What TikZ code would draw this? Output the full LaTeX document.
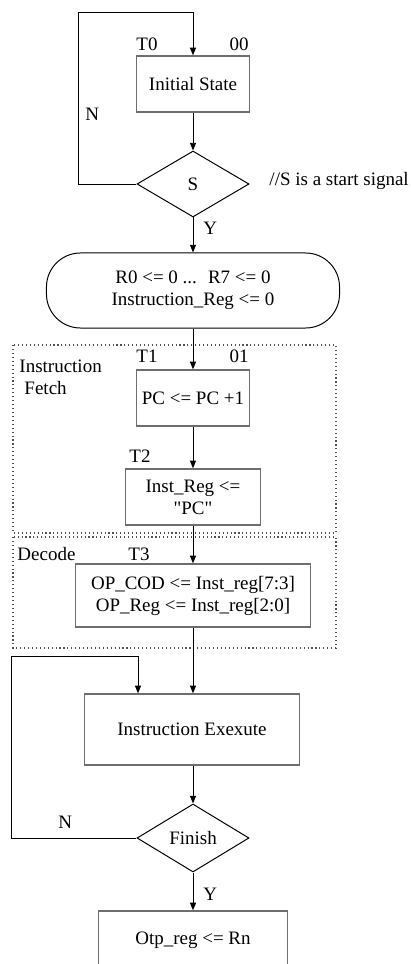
\documentclass[tikz,border=0pt]{standalone}
\usepackage{fontspec}
\setmainfont{Liberation Serif}
\newfontfamily\straightfont{Liberation Serif}[Ligatures=TeXOff]
\usetikzlibrary{shapes.geometric,arrows.meta}
\definecolor{boxgray}{HTML}{6E6E6E}
\definecolor{framegray}{HTML}{505050}
\tikzset{
  state/.style={draw=boxgray, line width=0.9pt, rectangle, inner sep=0pt, align=center,
    minimum width=2.825cm, minimum height=1.4cm},
  test/.style={draw, diamond, inner sep=0pt, minimum width=2.8cm, minimum height=1.65cm},
  lbl/.style={inner sep=0pt, anchor=base west},
  frame/.style={draw=framegray, dotted, line width=0.8pt}
}
\begin{document}
\begin{tikzpicture}[x=0.025cm, y=-0.025cm, line width=0.7pt,
    >={Triangle[length=5.5pt,width=4.3pt]},
    font=\fontsize{13.5pt}{15.6pt}\selectfont]
    \useasboundingbox (0,0) rectangle (411,964);
    \clip (0,0) rectangle (411,964);
    % Estado inicial
    \node[state] (init) at (193,84) {Initial State};
    \node[lbl] (t0) at (136,51) {T0};
    \node[lbl, anchor=base east] (c00) at (249,51) {00};
    \node[test] (s) at (193,184) {S};
    \node[lbl] (note) at (269,186) {//S is a start signal};
    \node[lbl] (n1) at (85,121) {N};
    \node[lbl] (y1) at (203,235) {Y};
    \coordinate (top) at (193,12);
    \draw[->] (s.west) -- ++(-58,0) |- (top) -- (init.north);
    \draw[->] (init.south) -- (s.north);
    % Reset
    \node[draw, rounded corners=0.85cm, inner sep=0pt, align=center,
      minimum width=7.325cm, minimum height=1.875cm] (reset) at (193,290.5)
      {R0 <= 0 ...~ R7 <= 0\\Instruction\_Reg <= 0};
    \draw[->] (s.south) -- (reset.north);
    % Fetch
    \draw[frame] (13,345) rectangle (336,533);
    \node[lbl] (fetch1) at (19,372) {Instruction};
    \node[lbl] (fetch2) at (24,394) {Fetch};
    \node[state] (pc) at (193,398) {PC <= PC +1};
    \node[lbl] (t1) at (136,362) {T1};
    \node[lbl, anchor=base east] (c01) at (249,362) {01};
    \node[state, minimum width=3.375cm] (ireg) at (193,497)
      {Inst\_Reg <=\\{\straightfont "PC"}};
    \node[lbl] (t2) at (129,462) {T2};
    \draw[->] (reset.south) -- (pc.north);
    \draw[->] (pc.south) -- (ireg.north);
    % Decode
    \draw[frame] (13,537) rectangle (336,648);
    \node[lbl] (dec) at (17,560) {Decode};
    \node[lbl] (t3) at (128,560) {T3};
    \node[state, minimum width=5.875cm, minimum height=1.575cm] (op) at (193,595.5)
      {OP\_COD <= Inst\_reg[7:3]\\OP\_Reg <= Inst\_reg[2:0]};
    \draw[->] (ireg.south) -- (op.north);
    % Ejecucion
    \node[state, minimum width=5.375cm, minimum height=1.775cm] (exec) at (192,729.5)
      {Instruction Exexute};
    \node[test, minimum height=1.7cm] (fin) at (193,838) {Finish};
    \node[lbl] (n2) at (58,828) {N};
    \node[lbl] (y2) at (203,900) {Y};
    \node[state, minimum width=4.725cm, minimum height=1.45cm] (otp) at (193,940)
      {Otp\_reg <= Rn};
    \coordinate (back) at (138,656);
    \draw[->] (op.south) -- (op.south |- exec.north);
    \draw[->] (fin.west) -- ++(-125,0) |- (back) -- (back |- exec.north);
    \draw[->] (exec.south -| fin.north) -- (fin.north);
    \draw[->] (fin.south) -- (otp.north);
\end{tikzpicture}
\end{document}
